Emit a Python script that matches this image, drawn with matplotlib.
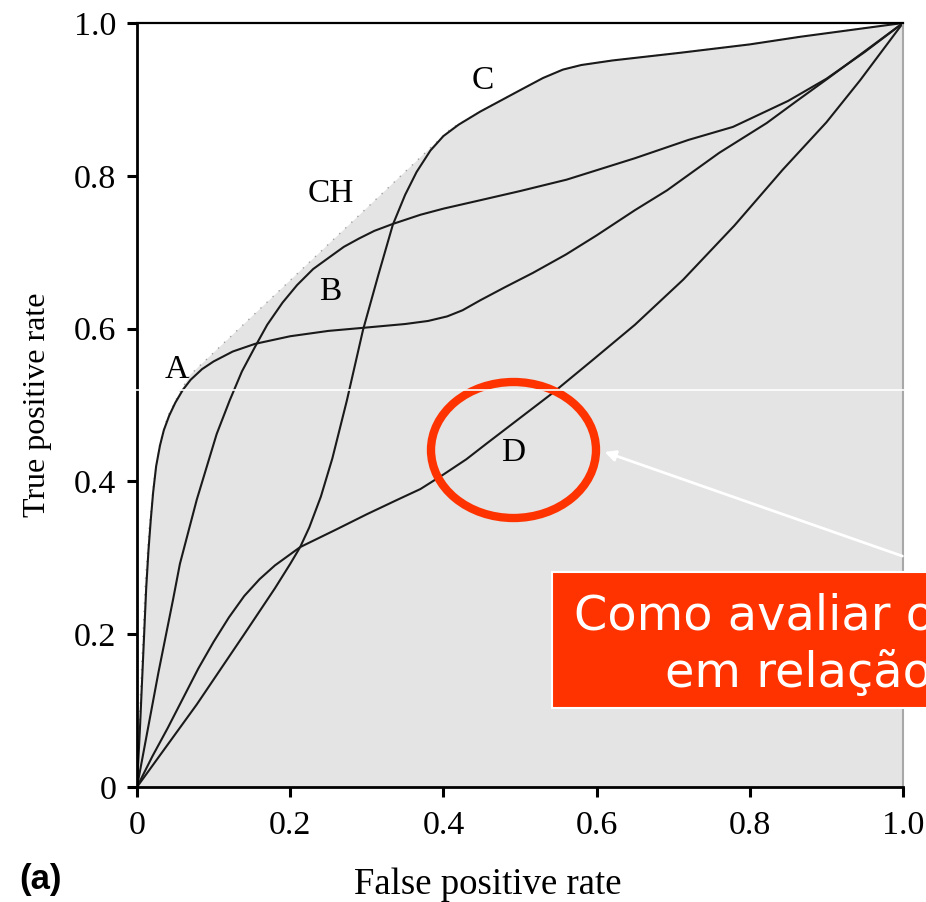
import numpy as np
import matplotlib
matplotlib.use("Agg")
import matplotlib.pyplot as plt
from matplotlib.patches import Ellipse, Rectangle, FancyArrowPatch
from matplotlib.lines import Line2D

W, H = 926, 902

# ROC curves (false positive rate, true positive rate)
a_fpr = [0, 0.004, 0.008, 0.012, 0.015, 0.018, 0.021, 0.025, 0.03, 0.035, 0.042, 0.05, 0.06,
         0.07, 0.085, 0.1, 0.125, 0.154, 0.2, 0.25, 0.295, 0.35, 0.38, 0.405, 0.425, 0.448,
         0.48, 0.517, 0.56, 0.6, 0.65, 0.692, 0.76, 0.822, 0.86, 0.9, 0.95, 1.0]
a_tpr = [0, 0.08, 0.17, 0.26, 0.31, 0.35, 0.385, 0.42, 0.447, 0.467, 0.486, 0.503, 0.52,
         0.533, 0.547, 0.557, 0.57, 0.58, 0.59, 0.597, 0.601, 0.606, 0.61, 0.616, 0.624, 0.637,
         0.654, 0.673, 0.697, 0.722, 0.755, 0.781, 0.83, 0.869, 0.897, 0.926, 0.963, 1.0]

b_fpr = [0, 0.028, 0.047, 0.056, 0.078, 0.104, 0.121, 0.137, 0.154, 0.17, 0.19, 0.209, 0.23,
         0.252, 0.27, 0.29, 0.31, 0.334, 0.37, 0.4, 0.448, 0.5, 0.561, 0.65, 0.72, 0.778, 0.85,
         0.9, 0.95, 1.0]
b_tpr = [0, 0.15, 0.245, 0.292, 0.376, 0.462, 0.506, 0.544, 0.576, 0.605, 0.634, 0.657, 0.678,
         0.694, 0.707, 0.718, 0.728, 0.737, 0.749, 0.757, 0.768, 0.78, 0.795, 0.823, 0.847, 0.864,
         0.898, 0.927, 0.962, 1.0]

c_fpr = [0, 0.078, 0.14, 0.18, 0.2, 0.213, 0.225, 0.24, 0.255, 0.274, 0.295, 0.315, 0.334,
         0.35, 0.365, 0.383, 0.4, 0.42, 0.448, 0.5, 0.53, 0.556, 0.58, 0.621, 0.709, 0.8,
         0.866, 1.0]
c_tpr = [0, 0.108, 0.2, 0.26, 0.292, 0.314, 0.34, 0.38, 0.43, 0.506, 0.598, 0.67, 0.736,
         0.775, 0.805, 0.833, 0.852, 0.867, 0.884, 0.912, 0.928, 0.939, 0.945, 0.951, 0.961,
         0.972, 0.982, 1.0]

d_fpr = [0, 0.02, 0.04, 0.06, 0.08, 0.1, 0.12, 0.14, 0.16, 0.18, 0.213, 0.26, 0.3, 0.34,
         0.37, 0.4, 0.43, 0.457, 0.5, 0.543, 0.595, 0.65, 0.713, 0.78, 0.843, 0.9, 0.944, 1.0]
d_tpr = [0, 0.04, 0.077, 0.116, 0.155, 0.19, 0.222, 0.25, 0.272, 0.29, 0.314, 0.337, 0.357,
         0.376, 0.39, 0.409, 0.429, 0.45, 0.483, 0.516, 0.559, 0.605, 0.664, 0.735, 0.808, 0.87,
         0.925, 1.0]

# convex hull (CH)
ch_fpr = [0, 0.003, 0.007, 0.011, 0.016, 0.022, 0.03, 0.04, 0.055, 0.07, 0.41, 0.448, 0.5,
          0.53, 0.556, 0.58, 0.621, 0.709, 0.8, 0.866, 1.0]
ch_tpr = [0, 0.08, 0.18, 0.27, 0.34, 0.4, 0.45, 0.485, 0.515, 0.54, 0.862, 0.884, 0.912,
          0.928, 0.939, 0.945, 0.951, 0.961, 0.972, 0.982, 1.0]

curve_labels = ["A", "B", "CH", "C", "D"]
label_x = [0.052, 0.252, 0.253, 0.452, 0.491]
label_y = [0.546, 0.648, 0.777, 0.925, 0.437]

ticks = [0, 0.2, 0.4, 0.6, 0.8, 1.0]
tick_text = ["0", "0.2", "0.4", "0.6", "0.8", "1.0"]

serif = "Liberation Serif"

fig = plt.figure(figsize=(W / 100, H / 100), dpi=100)
ax = fig.add_axes([137 / W, 115 / H, 766 / W, 764 / H])

ax.fill(ch_fpr + [1.0], ch_tpr + [0.0], color="#e4e4e4", lw=0, zorder=0)
ax.plot(ch_fpr, ch_tpr, ls=(0, (1, 5)), color="#a0a0a0", lw=1.0, zorder=1)

for xs, ys in [(a_fpr, a_tpr), (b_fpr, b_tpr), (c_fpr, c_tpr), (d_fpr, d_tpr)]:
    ax.plot(xs, ys, color="#1a1a1a", lw=1.5, zorder=2, solid_joinstyle="round")

for lab, lx, ly in zip(curve_labels, label_x, label_y):
    ax.text(lx, ly, lab, fontsize=24, family=serif, ha="center", va="center")

ax.set_xlim(0, 1)
ax.set_ylim(0, 1)
ax.set_xticks(ticks)
ax.set_xticklabels(tick_text, family=serif, fontsize=24.5)
ax.set_yticks(ticks)
ax.set_yticklabels(tick_text, family=serif, fontsize=24.5)
ax.tick_params(axis="both", direction="out", length=7, width=2.2)
ax.tick_params(axis="x", pad=10)
ax.tick_params(axis="y", pad=8)

for s in ["left", "bottom"]:
    ax.spines[s].set_linewidth(2.0)
ax.spines["top"].set_linewidth(1.6)
ax.spines["right"].set_color("#a8a8a8")
ax.spines["right"].set_linewidth(1.5)

ax.set_xlabel("False positive rate", family=serif, fontsize=26.5)
ax.xaxis.set_label_coords((488 - 137) / 766, -(868 - 787) / 764)
ax.set_ylabel("True positive rate", family=serif, fontsize=23)
ax.yaxis.set_label_coords(-(137 - 52) / 766, 0.5)

fig.text(19 / W, 1 - 880 / H, "(a)", family="Liberation Sans", weight="bold",
         fontsize=25, ha="left", va="center")

# white scan line across the plot
fig.add_artist(Line2D([134 / W, 1.0], [1 - 390 / H, 1 - 390 / H], color="white", lw=1.2))

# red ellipse around D
fig.add_artist(Ellipse((513.5 / W, 1 - 450 / H), 165 / W, 136 / H, fill=False,
                       edgecolor="#ff3300", lw=6.0, transform=fig.transFigure))

# arrow from the note box
fig.add_artist(FancyArrowPatch((905 / W, 1 - 557 / H), (602 / W, 1 - 451 / H),
                               arrowstyle="-|>", mutation_scale=16, color="white",
                               lw=2.0, transform=fig.transFigure))

# note box, clipped by the figure edge
fig.add_artist(Rectangle((552 / W, 1 - 708 / H), 400 / W, 136 / H, facecolor="#ff3300",
                         edgecolor="white", lw=1.5, transform=fig.transFigure))
fig.text(574 / W, 1 - 630 / H, "Como avaliar o", color="white", fontsize=34.5,
         family="DejaVu Sans", ha="left", va="baseline")
fig.text(665 / W, 1 - 687 / H, "em relação", color="white", fontsize=34.5,
         family="DejaVu Sans", ha="left", va="baseline")

fig.savefig("out.png", dpi=100)
